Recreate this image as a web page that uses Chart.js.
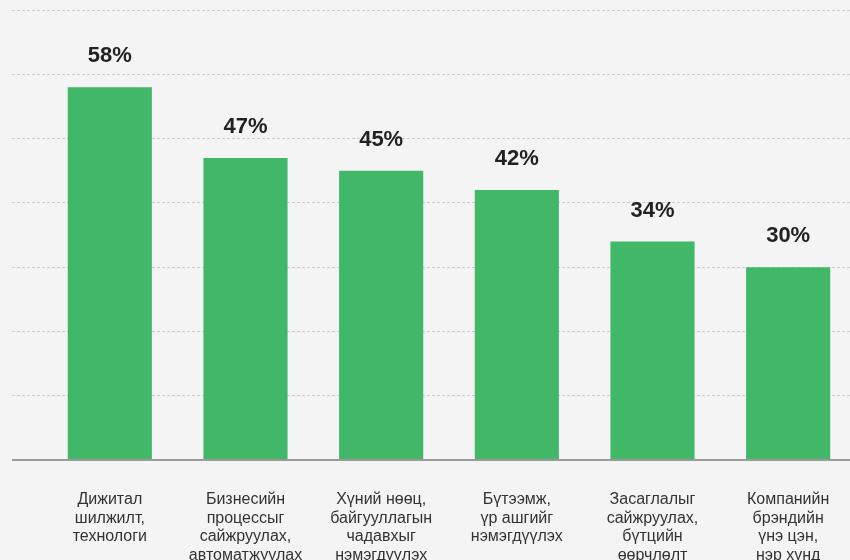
<!DOCTYPE html>
<html>
<head>
<meta charset="utf-8">
<script src="https://cdn.jsdelivr.net/npm/chart.js@4"></script>
<style>
  html, body { margin: 0; padding: 0; background: #f4f4f4; overflow: hidden; }
  #wrap { width: 856px; height: 587px; }
</style>
</head>
<body>
<div id="wrap"><canvas id="chartTop"></canvas></div>
<script>
// ангилал (мөр бүрээр)
const categories = [
    ['Дижитал', 'шилжилт,', 'технологи'],
    ['Бизнесийн', 'процессыг', 'сайжруулах,', 'автоматжуулах'],
    ['Хүний нөөц,', 'байгууллагын', 'чадавхыг', 'нэмэгдүүлэх'],
    ['Бүтээмж,', 'үр ашгийг', 'нэмэгдүүлэх'],
    ['Засаглалыг', 'сайжруулах,', 'бүтцийн', 'өөрчлөлт'],
    ['Компанийн', 'брэндийн', 'үнэ цэн,', 'нэр хүнд']
];
const values = [58, 47, 45, 42, 34, 30];
const yTicks = [0, 10, 20, 30, 40, 50, 60, 70];

const isZero = (c) => c.tick && c.tick.value === 0;

const valueLabels = {
    id: 'valueLabels',
    afterDatasetsDraw(chart) {
        const ctx = chart.ctx;
        const meta = chart.getDatasetMeta(0);
        ctx.save();
        ctx.font = 'bold 22px "Liberation Sans", Arial, sans-serif';
        ctx.fillStyle = '#222222';
        ctx.textAlign = 'center';
        ctx.textBaseline = 'middle';
        meta.data.forEach((bar, i) => {
            ctx.fillText(values[i] + '%', bar.x, bar.y - 31);
        });
        ctx.restore();
    }
};

new Chart(document.getElementById('chartTop'), {
    type: 'bar',
    data: {
        labels: categories,
        datasets: [{
            data: values,
            backgroundColor: '#40b868',
            barPercentage: 0.62,
            categoryPercentage: 1
        }]
    },
    options: {
        responsive: true,
        maintainAspectRatio: false,
        animation: false,
        layout: { padding: { left: 12, top: 10, right: 0, bottom: 0 } },
        plugins: {
            legend: { display: false },
            tooltip: { enabled: false }
        },
        scales: {
            x: {
                grid: { display: false },
                border: { display: false },
                ticks: {
                    padding: 22,
                    color: '#333333',
                    maxRotation: 0,
                    autoSkip: false,
                    font: { family: '"Liberation Sans", Arial, sans-serif', size: 16, lineHeight: 1.17 }
                }
            },
            y: {
                min: 0,
                max: 70,
                afterBuildTicks: (axis) => { axis.ticks = yTicks.map(v => ({ value: v })); },
                border: {
                    display: false,
                    dash: (c) => isZero(c) ? [] : [3, 2]
                },
                ticks: { display: false },
                grid: {
                    tickLength: 30,
                    color: (c) => isZero(c) ? '#9a9a9a' : '#cccccc',
                    lineWidth: (c) => isZero(c) ? 2 : 1,
                    tickBorderDash: (c) => isZero(c) ? [] : [3, 2]
                }
            }
        }
    },
    plugins: [valueLabels]
});
</script>
</body>
</html>
